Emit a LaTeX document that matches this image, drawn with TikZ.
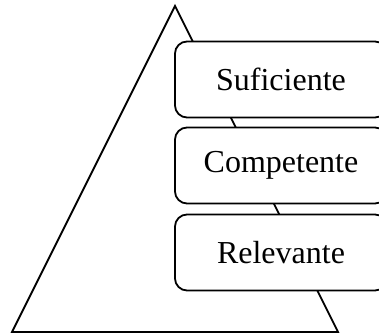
\documentclass[tikz,border=0pt]{standalone}
\usepackage{fontspec}
\setmainfont{Liberation Serif}
\tikzset{level/.style={draw, rounded corners=12pt, fill=white, line width=1.8pt,
  minimum width=212pt, minimum height=76pt, inner sep=0pt,
  font=\fontsize{32}{38}\selectfont}}
\begin{document}
\begin{tikzpicture}[x=1pt, y=-1pt]
\useasboundingbox (0,0) rectangle (379,336);
\clip (0,0) rectangle (379,336);
\draw[line width=1.8pt] (175,6) -- (12,332) -- (338,332) -- cycle;

\node[level] (suf) at (281,79.5) {Suficiente};
\node[level] (comp) at (281,165.5) {Competente};
\node[level] (rel) at (281,252.5) {Relevante};
\end{tikzpicture}
\end{document}
